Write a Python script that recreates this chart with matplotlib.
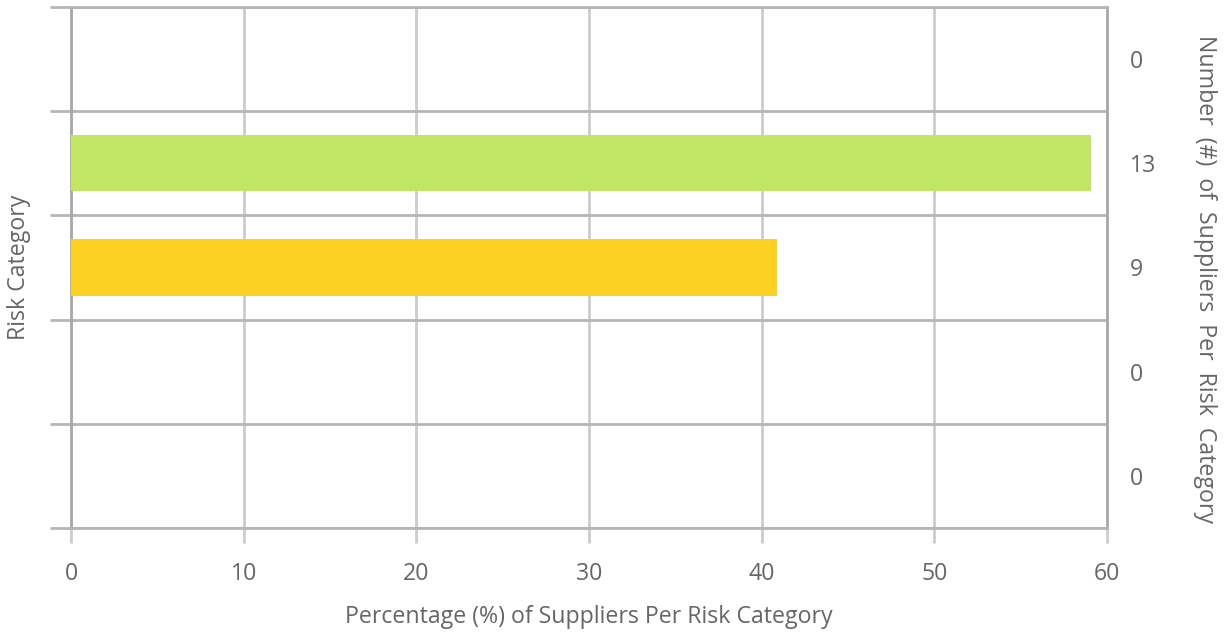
import matplotlib
matplotlib.use("Agg")
import matplotlib.pyplot as plt

# Data
rows = [0, 1, 2, 3, 4]
percentages = [0.0, 59.1, 40.9, 0.0, 0.0]
counts = ["0", "13", "9", "0", "0"]
bar_colors = ["#2e9e49", "#c1e666", "#fdd122", "#f7941d", "#e2231a"]
x_ticks = [0, 10, 20, 30, 40, 50, 60]

TEXT = "#666666"
HLINE = "#b5b5b5"
VLINE = "#cccccc"
SPINE = "#a8a8a8"
FONT = "Open Sans"
FS = 16.7

plt.rcParams['font.family'] = [FONT, 'DejaVu Sans']

fig = plt.figure(figsize=(12.25, 6.35), dpi=100)
ax = fig.add_axes([71/1225, 1-528/635, (1107-71)/1225, (528-7)/635])

ax.barh(rows, percentages, height=0.54, color=bar_colors, zorder=3)

ax.set_xlim(0, 60)
ax.set_ylim(4.5, -0.5)

# x axis
ax.set_xticks(x_ticks)
ax.set_xticklabels([str(t) for t in x_ticks], color=TEXT, fontsize=FS)
ax.tick_params(axis='x', direction='out', length=11, width=2, color=VLINE, pad=13.5)
ax.xaxis.grid(True, color=VLINE, linewidth=2, zorder=0)

# y axis: boundaries
bounds = [-0.5, 0.5, 1.5, 2.5, 3.5, 4.5]
ax.set_yticks(bounds)
ax.set_yticklabels([])
ax.tick_params(axis='y', direction='out', length=15, width=2, color=HLINE)
ax.yaxis.grid(True, color=HLINE, linewidth=2, zorder=0)

for s in ['top', 'bottom']:
    ax.spines[s].set_color(HLINE)
    ax.spines[s].set_linewidth(2)
for s in ['left', 'right']:
    ax.spines[s].set_color(SPINE)
    ax.spines[s].set_linewidth(2)
ax.set_axisbelow(True)

for t, lbl in zip(ax.xaxis.get_major_ticks(), x_ticks):
    if lbl in (0, 60):
        t.tick1line.set_color(SPINE)

ax.set_xlabel("Percentage (%) of Suppliers Per Risk Category", color=TEXT,
              fontsize=FS, labelpad=14)
ax.set_ylabel("Risk Category", color=TEXT, fontsize=FS, labelpad=10)

# right axis with counts
ax2 = ax.twinx()
ax2.set_ylim(ax.get_ylim())
ax2.set_yticks(rows)
ax2.set_yticklabels(counts, color=TEXT, fontsize=FS)
ax2.tick_params(axis='y', length=0, pad=16.5)
for s in ax2.spines.values():
    s.set_visible(False)
ax2.set_ylabel("Number  (#)  of  Suppliers  Per  Risk  Category", color=TEXT,
               fontsize=FS, rotation=-90, va='center', ha='center')
ax2.yaxis.set_label_coords((1205 - 71) / 1036, (528 - 279) / 521)

fig.savefig("out.png", dpi=100)
